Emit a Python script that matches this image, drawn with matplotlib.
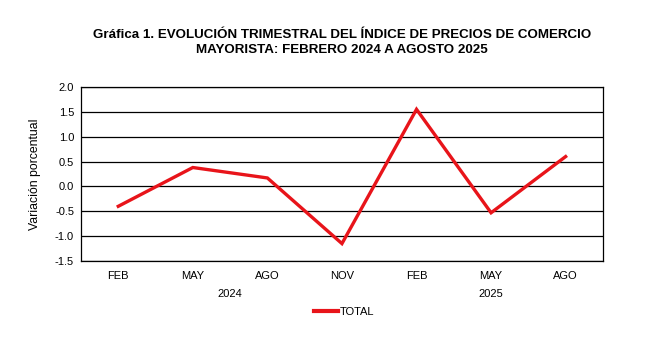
import matplotlib.pyplot as plt

months = ["FEB", "MAY", "AGO", "NOV", "FEB", "MAY", "AGO"]
years = ["2024", "2025"]
year_spans = [(0, 3), (4, 6)]
total = [-0.40, 0.38, 0.17, -1.15, 1.55, -0.53, 0.60]

plt.rcParams["font.family"] = ["Liberation Sans", "DejaVu Sans"]

fig = plt.figure(figsize=(6.49, 3.41), dpi=100)
ax = fig.add_axes([0.1248, 0.2346, 0.8042, 0.5104])

x = list(range(len(months)))
ax.plot(x, total, color="#e8141a", lw=2.4, label="TOTAL", solid_joinstyle="miter")

ax.set_xlim(-0.5, len(months) - 0.5)
ax.set_ylim(-1.5, 2.0)
ax.set_yticks([-1.5 + 0.5 * i for i in range(8)])
ax.set_yticklabels([f"{-1.5 + 0.5 * i:.1f}" for i in range(8)], fontsize=8)
ax.set_xticks(x)
ax.set_xticklabels(months, fontsize=8)
ax.tick_params(length=0, pad=7)
ax.tick_params(axis="y", pad=5)
ax.yaxis.grid(True, color="black", lw=0.9)
ax.set_axisbelow(True)
for s in ax.spines.values():
    s.set_color("black")
    s.set_linewidth(0.9)

for yr, (a, b) in zip(years, year_spans):
    ax.text((a + b) / 2, -0.19, yr, transform=ax.get_xaxis_transform(),
            ha="center", va="center", fontsize=8)

ax.set_ylabel("Variación porcentual", fontsize=8.8, labelpad=10)

fig.text(0.527, 0.897, "Gráfica 1. EVOLUCIÓN TRIMESTRAL DEL ÍNDICE DE PRECIOS DE COMERCIO",
         ha="center", va="center", fontsize=9.6, fontweight="bold")
fig.text(0.527, 0.853, "MAYORISTA: FEBRERO 2024 A AGOSTO 2025",
         ha="center", va="center", fontsize=9.6, fontweight="bold")

leg = fig.legend(loc="center", bbox_to_anchor=(0.53, 0.085), frameon=False, fontsize=8,
                 handlelength=2.2, handletextpad=0.1)
for line in leg.get_lines():
    line.set_linewidth(3)

fig.savefig("out.png", dpi=100)
